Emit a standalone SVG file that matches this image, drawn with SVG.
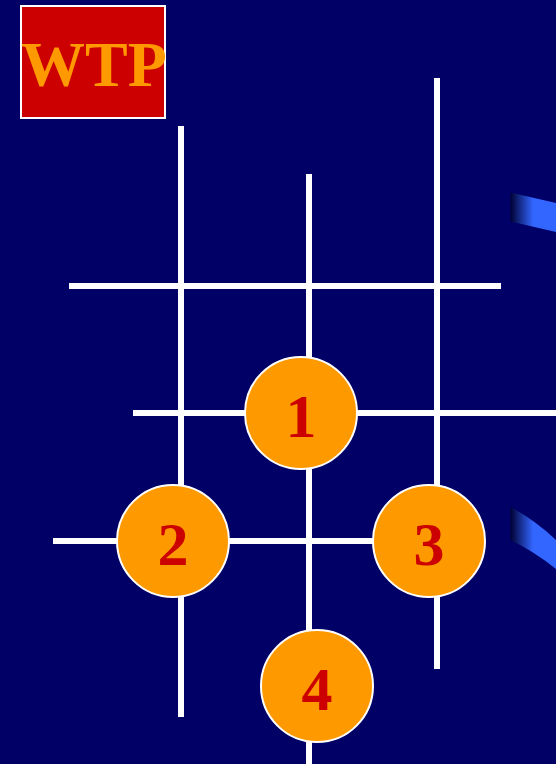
<svg xmlns="http://www.w3.org/2000/svg" width="556" height="764" viewBox="0 0 556 764">
<defs>
<linearGradient id="band" x1="0" y1="0" x2="1" y2="0">
<stop offset="0" stop-color="#000033"/>
<stop offset="0.5" stop-color="#3366ff"/>
<stop offset="1" stop-color="#3366ff"/>
</linearGradient>
<style>
.ln{stroke:#ffffff;stroke-width:6;fill:none}
.nd circle{fill:#ff9900;stroke:#ffffff;stroke-width:2}
.nd text{font-family:"Liberation Serif",serif;font-weight:bold;font-size:62px;fill:#cc0000;text-anchor:middle}
</style>
</defs>
<rect width="556" height="764" fill="#000066"/>
<path d="M510.5,192.5 L556,203 L556,232 L510.5,221.5 Z" fill="url(#band)"/>
<path d="M510.5,507 Q535,520 556,540 L556,569 Q535,552 510.5,540 Z" fill="url(#band)"/>
<g id="connectors">
<line class="ln" x1="181" y1="126" x2="181" y2="717"/>
<line class="ln" x1="309" y1="174" x2="309" y2="764"/>
<line class="ln" x1="437" y1="78" x2="437" y2="669"/>
<line class="ln" x1="69" y1="286" x2="501" y2="286"/>
<line class="ln" x1="133" y1="413" x2="556" y2="413"/>
<line class="ln" x1="53" y1="541" x2="437" y2="541"/>
</g>
<g id="title">
<rect x="21" y="6" width="144" height="112" fill="#cc0000" stroke="#ffffff" stroke-width="2"/>
<text x="94" y="86" font-family="Liberation Serif,serif" font-weight="bold" font-size="64" fill="#ff9900" text-anchor="middle">WTP</text>
</g>
<g id="node1" class="nd"><circle cx="301" cy="413" r="56"/><text x="301" y="437">1</text></g>
<g id="node2" class="nd"><circle cx="173" cy="541" r="56"/><text x="173" y="565">2</text></g>
<g id="node3" class="nd"><circle cx="429" cy="541" r="56"/><text x="429" y="565">3</text></g>
<g id="node4" class="nd"><circle cx="317" cy="686" r="56"/><text x="317" y="710">4</text></g>
</svg>
